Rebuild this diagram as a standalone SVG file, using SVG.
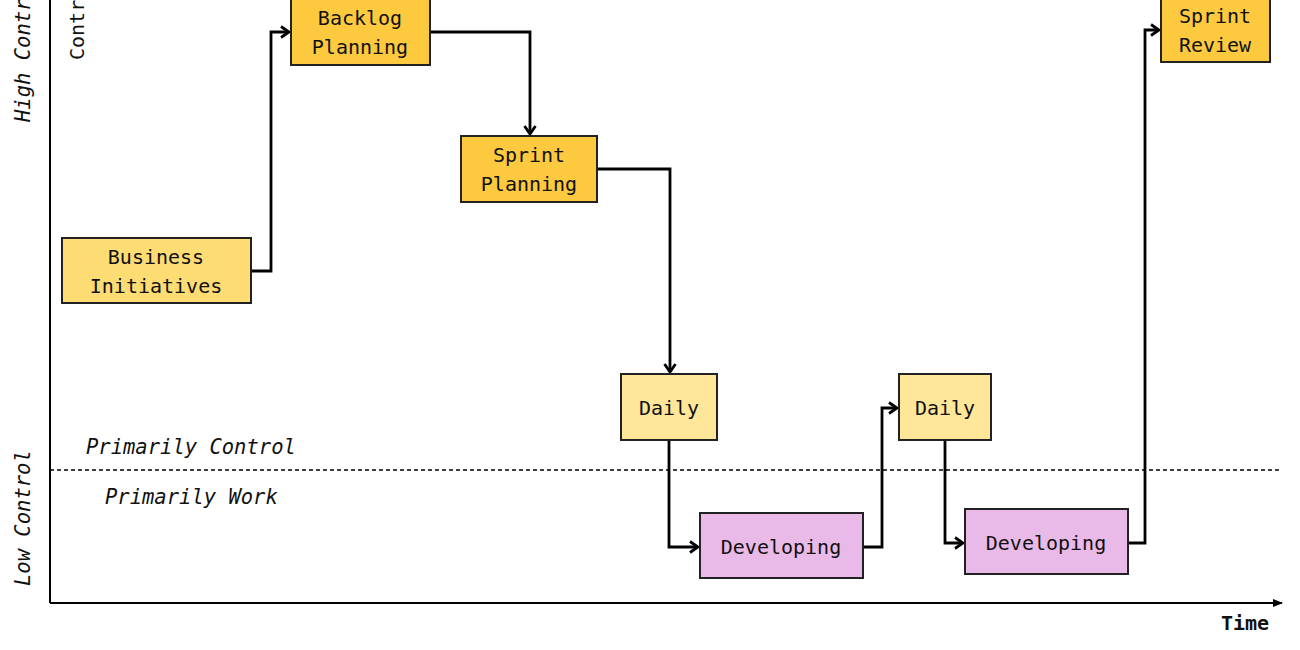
<svg xmlns="http://www.w3.org/2000/svg" width="1300" height="650" viewBox="0 0 1300 650">
<style>
.n{stroke:#222;stroke-width:2}
.t{font-family:"DejaVu Sans Mono","Liberation Mono",monospace;font-size:20px;fill:#111;text-anchor:middle}
.l{font-family:"DejaVu Sans Mono","Liberation Mono",monospace;font-size:20.5px;fill:#111;font-style:italic}
.c{fill:none;stroke:#000;stroke-width:2.8}
.strong{fill:#fdca3f}.light{fill:#fddc74}.daily{fill:#fee799}.dev{fill:#e9b9e7}
</style>
<defs>
<marker id="ah" viewBox="0 0 14 14" refX="12" refY="7" markerWidth="14" markerHeight="14" markerUnits="userSpaceOnUse" orient="auto">
<path d="M4,1.5 L12,7 L4,12.5" fill="none" stroke="#000" stroke-width="2.8"/>
</marker>
<marker id="axh" viewBox="0 0 10 10" refX="9" refY="5" markerWidth="10" markerHeight="10" markerUnits="userSpaceOnUse" orient="auto">
<path d="M0,1 L10,5 L0,9 z" fill="#000"/>
</marker>
</defs>
<rect width="1300" height="650" fill="#fff"/>
<g id="axes">
<line x1="50" y1="-5" x2="50" y2="603" stroke="#000" stroke-width="2"/>
<line x1="50" y1="603" x2="1282" y2="603" stroke="#000" stroke-width="2" marker-end="url(#axh)"/>
<line x1="50" y1="470" x2="1282" y2="470" stroke="#000" stroke-width="1.3" stroke-dasharray="4,3"/>
<text x="1245" y="630" class="t" style="font-weight:bold">Time</text>
<text class="l" transform="translate(30,122) rotate(-90)">High Control</text>
<text class="l" transform="translate(30,586) rotate(-90)">Low Control</text>
<text class="t" style="text-anchor:start" transform="translate(84,60) rotate(-90)">Control</text>
<text class="l" x="86" y="454">Primarily Control</text>
<text class="l" x="105" y="504">Primarily Work</text>
</g>
<g id="connectors">
<path class="c" d="M251,271 H271 V32 H289" marker-end="url(#ah)"/>
<path class="c" d="M430,32 H530 V134" marker-end="url(#ah)"/>
<path class="c" d="M597,169 H670 V372" marker-end="url(#ah)"/>
<path class="c" d="M669,440 V547 H698" marker-end="url(#ah)"/>
<path class="c" d="M863,547 H882 V408 H897" marker-end="url(#ah)"/>
<path class="c" d="M945,440 V543 H963" marker-end="url(#ah)"/>
<path class="c" d="M1128,543 H1145 V30 H1159" marker-end="url(#ah)"/>
</g>
<g id="business-initiatives">
<rect class="n light" x="62" y="238" width="189" height="65"/>
<text class="t" x="156" y="264">Business</text>
<text class="t" x="156" y="293">Initiatives</text>
</g>
<g id="backlog-planning">
<rect class="n strong" x="291" y="-2" width="139" height="67"/>
<text class="t" x="360" y="25">Backlog</text>
<text class="t" x="360" y="54">Planning</text>
</g>
<g id="sprint-planning">
<rect class="n strong" x="461" y="136" width="136" height="66"/>
<text class="t" x="529" y="162">Sprint</text>
<text class="t" x="529" y="191">Planning</text>
</g>
<g id="daily-1">
<rect class="n daily" x="621" y="374" width="96" height="66"/>
<text class="t" x="669" y="415">Daily</text>
</g>
<g id="developing-1">
<rect class="n dev" x="700" y="513" width="163" height="65"/>
<text class="t" x="781" y="554">Developing</text>
</g>
<g id="daily-2">
<rect class="n daily" x="899" y="374" width="92" height="66"/>
<text class="t" x="945" y="415">Daily</text>
</g>
<g id="developing-2">
<rect class="n dev" x="965" y="509" width="163" height="65"/>
<text class="t" x="1046" y="550">Developing</text>
</g>
<g id="sprint-review">
<rect class="n strong" x="1161" y="-5" width="109" height="67"/>
<text class="t" x="1215" y="23">Sprint</text>
<text class="t" x="1215" y="52">Review</text>
</g>
</svg>
